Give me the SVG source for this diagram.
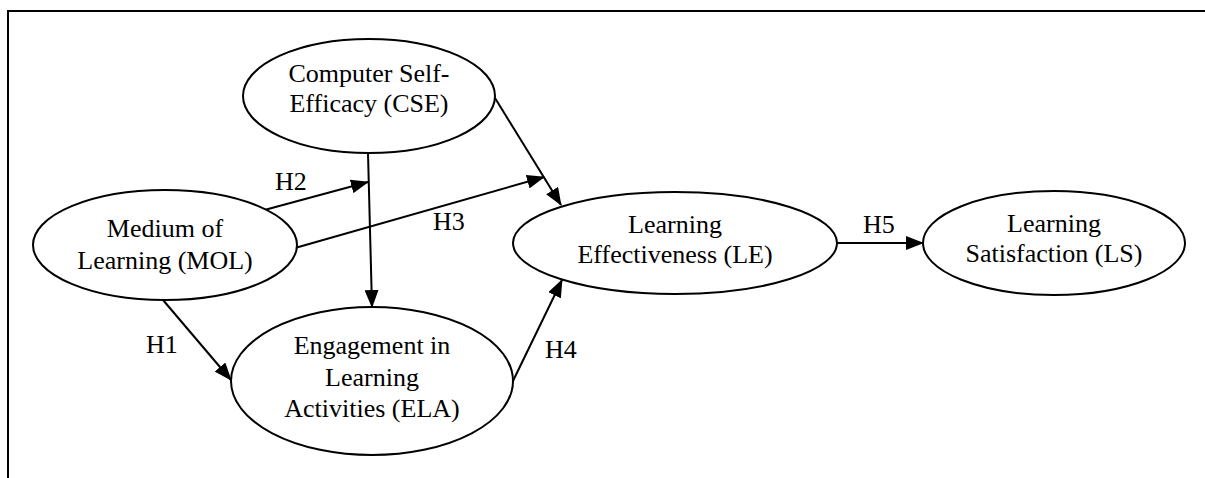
<svg xmlns="http://www.w3.org/2000/svg" width="1205" height="478" viewBox="0 0 1205 478">
<style>
.node ellipse{fill:#fff;stroke:#000;stroke-width:2}
text{font-family:'Liberation Serif','Times New Roman',Times,'DejaVu Serif',serif;font-size:26px;fill:#000}
.c{text-anchor:middle}
.edge{stroke:#000;stroke-width:2;fill:none;marker-end:url(#ah)}
.frame{stroke:#000;stroke-width:2;fill:none}
</style>
<defs>
<marker id="ah" markerWidth="18" markerHeight="14" refX="17" refY="7" orient="auto" markerUnits="userSpaceOnUse">
<path d="M0,0 L18,7 L0,14 Z" fill="#000"/>
</marker>
</defs>
<polyline class="frame" points="8,478 8,11 1205,11"/>
<g id="connectors">
<line class="edge" x1="495" y1="98" x2="561" y2="205"/>
<line class="edge" x1="257" y1="212" x2="368" y2="182"/>
<line class="edge" x1="295" y1="248" x2="544" y2="177"/>
<line class="edge" x1="368" y1="153" x2="372" y2="307"/>
<line class="edge" x1="163" y1="300" x2="231" y2="380"/>
<line class="edge" x1="512" y1="383" x2="562" y2="280"/>
<line class="edge" x1="836" y1="243" x2="923" y2="243"/>
</g>
<g id="labels">
<text x="275" y="190" font-family="Liberation Serif, serif">H2</text>
<text x="433" y="230" font-family="Liberation Serif, serif">H3</text>
<text x="146" y="353" font-family="Liberation Serif, serif">H1</text>
<text x="545" y="358" font-family="Liberation Serif, serif">H4</text>
<text x="863" y="233" font-family="Liberation Serif, serif">H5</text>
</g>
<g id="CSE" class="node">
<ellipse cx="369" cy="96" rx="126" ry="57"/>
<text class="c" x="369" y="82">Computer Self-</text>
<text class="c" x="369" y="112">Efficacy (CSE)</text>
</g>
<g id="MOL" class="node">
<ellipse cx="165" cy="245" rx="132" ry="55"/>
<text class="c" x="165" y="237">Medium of</text>
<text class="c" x="165" y="269">Learning (MOL)</text>
</g>
<g id="ELA" class="node">
<ellipse cx="372" cy="381" rx="141" ry="74"/>
<text class="c" x="372" y="354">Engagement in</text>
<text class="c" x="372" y="386">Learning</text>
<text class="c" x="372" y="417">Activities (ELA)</text>
</g>
<g id="LE" class="node">
<ellipse cx="675" cy="243" rx="162" ry="51"/>
<text class="c" x="675" y="233">Learning</text>
<text class="c" x="675" y="263">Effectiveness (LE)</text>
</g>
<g id="LS" class="node">
<ellipse cx="1054" cy="243" rx="131" ry="52"/>
<text class="c" x="1054" y="232">Learning</text>
<text class="c" x="1054" y="262">Satisfaction (LS)</text>
</g>
</svg>
